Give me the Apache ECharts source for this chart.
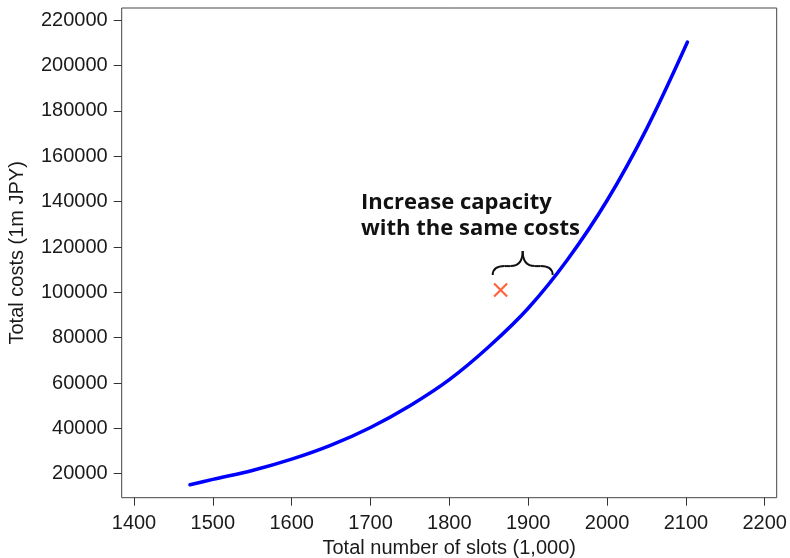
<!DOCTYPE html>
<html>
<head>
<meta charset="utf-8">
<title>Total costs vs. total number of slots</title>
<script src="https://cdn.jsdelivr.net/npm/echarts@6/dist/echarts.min.js"></script>
<style>
  html, body { margin: 0; padding: 0; background: #ffffff; }
  #chart { width: 790px; height: 558px; }
</style>
</head>
<body>
<div id="chart"></div>
<script>
// Cost curve: total number of slots (1,000) against total costs (1m JPY)
const slots = [1471, 1500, 1550, 1600, 1650, 1700, 1750, 1800, 1850, 1900, 1950, 2000, 2050, 2102];
const costs = [15100, 17500, 21400, 26400, 32600, 40400, 50000, 61500, 76000, 93000, 114500, 140500, 172000, 210400];

// Current operating point
const currentSlots = [1865];
const currentCosts = [101000];

// Axis tick labels
const xTicks = [1400, 1500, 1600, 1700, 1800, 1900, 2000, 2100, 2200];
const yTicks = [20000, 40000, 60000, 80000, 100000, 120000, 140000, 160000, 180000, 200000, 220000];

// Annotation text and brace span (in data units)
const noteLines = ['Increase capacity', 'with the same costs'];
const braceFrom = [1855, 107600];
const braceTo = [1931, 107600];

const chart = echarts.init(document.getElementById('chart'), null, { renderer: 'canvas' });

const axisFont = { fontFamily: '"Liberation Sans", Arial, sans-serif', fontSize: 20, color: '#1a1a1a' };
const plain = v => String(v);

const option = {
  animation: false,
  backgroundColor: '#ffffff',
  grid: {
    left: 121.7, right: 13.3, top: 8, bottom: 60.3,
    containLabel: false,
    outerBoundsMode: 'none',
    show: true, borderColor: '#444', borderWidth: 1, backgroundColor: 'transparent'
  },
  xAxis: {
    type: 'value',
    min: 1384.4, max: 2215.2,
    name: 'Total number of slots (1,000)',
    nameLocation: 'middle',
    nameGap: 40,
    nameTextStyle: axisFont,
    axisLine: { show: false },
    splitLine: { show: false },
    axisTick: { show: true, inside: false, length: 8, lineStyle: { color: '#333', width: 1 }, customValues: xTicks },
    axisLabel: Object.assign({ margin: 16, customValues: xTicks, formatter: plain }, axisFont)
  },
  yAxis: {
    type: 'value',
    min: 9414, max: 225425,
    name: 'Total costs (1m JPY)',
    nameLocation: 'middle',
    nameGap: 94,
    nameRotate: 90,
    nameTextStyle: axisFont,
    axisLine: { show: false },
    splitLine: { show: false },
    axisTick: { show: true, inside: false, length: 8, lineStyle: { color: '#333', width: 1 }, customValues: yTicks },
    axisLabel: Object.assign({ margin: 14, customValues: yTicks, formatter: plain }, axisFont)
  },
  series: [
    {
      type: 'line',
      data: slots.map((s, i) => [s, costs[i]]),
      smooth: 0.35,
      showSymbol: false,
      lineStyle: { color: '#0000ff', width: 3.5, cap: 'round' },
      z: 2
    },
    {
      type: 'scatter',
      data: currentSlots.map((s, i) => [s, currentCosts[i]]),
      symbol: 'path://M0,0L10,10M10,0L0,10',
      symbolSize: 13,
      itemStyle: { color: 'none', borderColor: '#ff3c0a', borderWidth: 2.2 },
      z: 3
    }
  ]
};

chart.setOption(option);

// Brace and note drawn from data coordinates
const p0 = chart.convertToPixel({ gridIndex: 0 }, braceFrom);
const p1 = chart.convertToPixel({ gridIndex: 0 }, braceTo);
const xl = p0[0], xr = p1[0], ye = p0[1];
const xm = (xl + xr) / 2;
const yb = ye - 9, yt = ye - 24;
const braceStyle = { stroke: '#111', lineWidth: 2, fill: 'none' };

chart.setOption({
  graphic: [
    { type: 'bezierCurve', shape: { x1: xl, y1: ye, cpx1: xl, cpy1: yb, x2: xl + 12, y2: yb }, style: braceStyle, z: 10 },
    { type: 'line', shape: { x1: xl + 12, y1: yb, x2: xm - 12, y2: yb }, style: braceStyle, z: 10 },
    { type: 'bezierCurve', shape: { x1: xm - 12, y1: yb, cpx1: xm, cpy1: yb, x2: xm, y2: yt }, style: braceStyle, z: 10 },
    { type: 'bezierCurve', shape: { x1: xm, y1: yt, cpx1: xm, cpy1: yb, x2: xm + 12, y2: yb }, style: braceStyle, z: 10 },
    { type: 'line', shape: { x1: xm + 12, y1: yb, x2: xr - 12, y2: yb }, style: braceStyle, z: 10 },
    { type: 'bezierCurve', shape: { x1: xr - 12, y1: yb, cpx1: xr, cpy1: yb, x2: xr, y2: ye }, style: braceStyle, z: 10 },
    {
      type: 'text',
      left: 361,
      top: 190,
      style: {
        text: noteLines.join('\n'),
        font: 'bold 22px "Open Sans", sans-serif',
        lineHeight: 26,
        fill: '#111'
      },
      z: 10
    }
  ]
});
</script>
</body>
</html>
